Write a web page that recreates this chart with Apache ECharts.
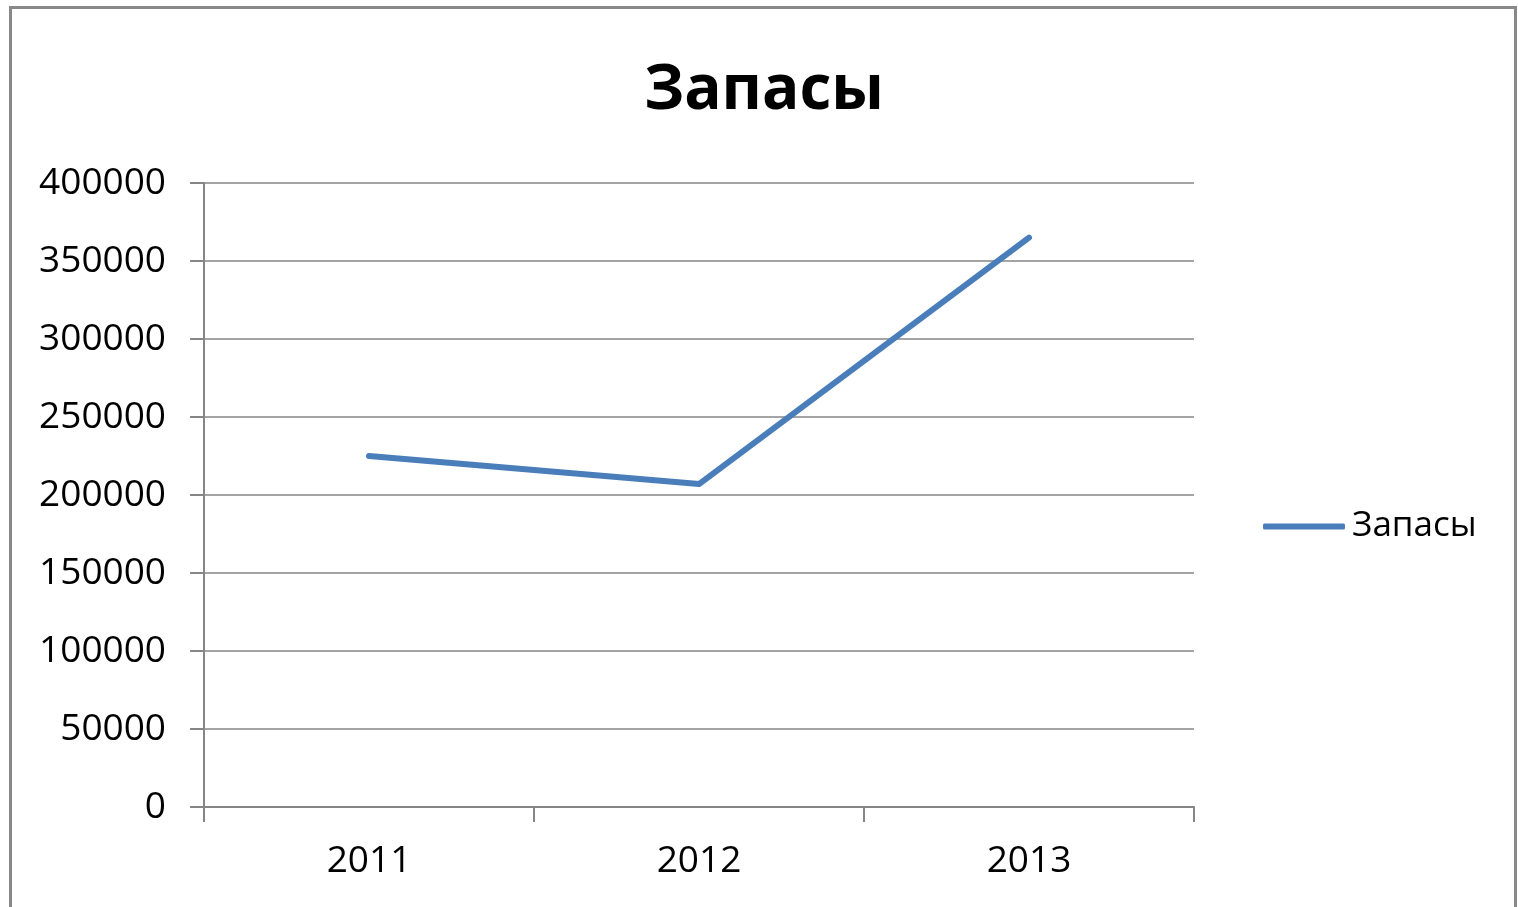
<!DOCTYPE html>
<html><head><meta charset="utf-8">
<script src="https://cdn.jsdelivr.net/npm/echarts@6/dist/echarts.min.js"></script>
<style>html,body{margin:0;padding:0;background:#fff;}#c{width:1518px;height:907px;}</style>
</head><body><div id="c"></div>
<script>
const title = 'Запасы';
const seriesName = 'Запасы';
const categories = ['2011', '2012', '2013'];
const values = [225000, 207000, 365000];
const yTicks = {min: 0, max: 400000, interval: 50000};

const chart = echarts.init(document.getElementById('c'), null, {renderer: 'canvas'});
const font = '"Open Sans", sans-serif';
chart.setOption({
  animation: false,
  backgroundColor: '#fff',
  graphic: [{type: 'rect', shape: {x: 10.5, y: 7.5, width: 1505, height: 960}, style: {fill: 'none', stroke: '#888', lineWidth: 3}, z: 100}],
  title: {text: title, left: 759, textAlign: 'center', top: 55,
    textStyle: {fontFamily: font, fontWeight: 'bold', fontSize: 62, color: '#000'}},
  legend: {data: [seriesName], left: 1258, top: 504, icon: 'roundRect', itemWidth: 82, itemHeight: 6, itemGap: 0,
    textStyle: {fontFamily: font, fontSize: 35, color: '#000', padding: [0,0,0,2]}},
  grid: {left: 204, right: 324, top: 183, bottom: 100, containLabel: false},
  xAxis: {type: 'category', data: categories, boundaryGap: true,
    axisLine: {lineStyle: {color: '#868686', width: 2}},
    axisTick: {show: true, length: 15, alignWithLabel: false, lineStyle: {color: '#868686', width: 2}},
    axisLabel: {fontFamily: font, fontSize: 37, color: '#000', margin: 36}},
  yAxis: {type: 'value', min: yTicks.min, max: yTicks.max, interval: yTicks.interval,
    axisLine: {show: true, lineStyle: {color: '#868686', width: 2}},
    axisTick: {show: true, length: 14, lineStyle: {color: '#868686', width: 2}},
    splitLine: {lineStyle: {color: '#868686', width: 1.5}},
    axisLabel: {fontFamily: font, fontSize: 37, color: '#000', margin: 38, formatter: v => String(v), padding: [7,0,0,0]}},
  series: [{name: seriesName, type: 'line', data: values, showSymbol: false, symbol: 'none',
    lineStyle: {color: '#4a7ebb', width: 6, cap: 'round', join: 'round'}, itemStyle: {color: '#4a7ebb'}}]
});
</script></body></html>
